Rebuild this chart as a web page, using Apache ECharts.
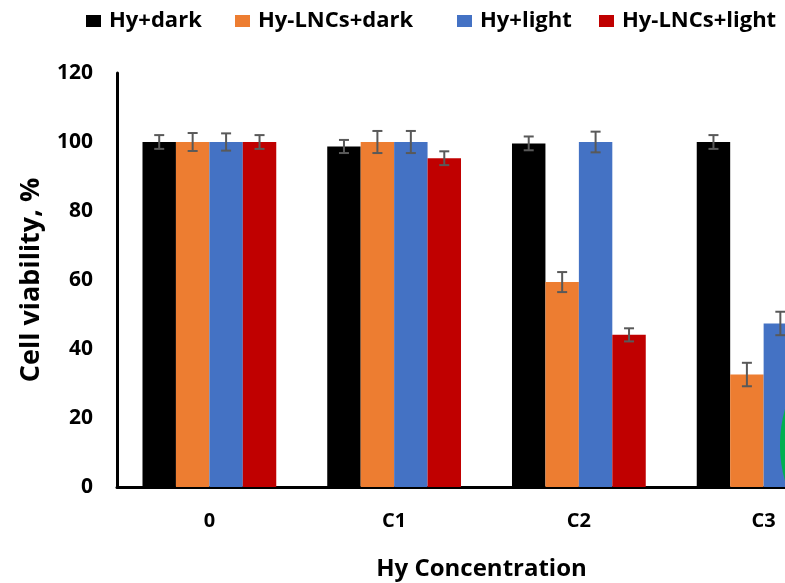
<!DOCTYPE html>
<html>
<head>
<meta charset="utf-8">
<script src="https://cdn.jsdelivr.net/npm/echarts@6/dist/echarts.min.js"></script>
<style>html,body{margin:0;padding:0;background:#fff;}#c{width:785px;height:583px;}</style>
</head>
<body>
<div id="c"></div>
<script>
const categories = ['0', 'C1', 'C2', 'C3'];
const seriesNames = ['Hy+dark', 'Hy-LNCs+dark', 'Hy+light', 'Hy-LNCs+light'];
const hyDark = [100, 98.7, 99.6, 100];
const hyDarkErr = [2, 1.9, 2, 2];
const hyLNCsDark = [100, 100, 59.4, 32.6];
const hyLNCsDarkErr = [2.6, 3.2, 2.9, 3.4];
const hyLight = [100, 100, 100, 47.4];
const hyLightErr = [2.5, 3.2, 3, 3.4];
const hyLNCsLight = [100, 95.3, 44.1, 12];
const hyLNCsLightErr = [2, 2, 1.9, 2];
const yTicks = [0, 20, 40, 60, 80, 100, 120];

const values = [hyDark, hyLNCsDark, hyLight, hyLNCsLight];
const errors = [hyDarkErr, hyLNCsDarkErr, hyLightErr, hyLNCsLightErr];
const colors = ['#000000', '#ED7D31', '#4472C4', '#C00000'];
const legendLefts = [86, 235, 457, 599];
const catGap = 0.276;
const FONT = '"Open Sans", sans-serif';

const chart = echarts.init(document.getElementById('c'), null, {renderer: 'canvas'});

const series = [];
values.forEach((vals, si) => {
  series.push({
    name: seriesNames[si],
    type: 'bar',
    data: vals,
    barGap: '0%',
    barCategoryGap: (catGap * 100) + '%',
    itemStyle: {color: colors[si]},
    z: 2
  });
});
values.forEach((vals, si) => {
  series.push({
    type: 'custom',
    name: seriesNames[si] + ' err',
    z: 5,
    silent: true,
    data: vals.map((v, i) => [i, v, errors[si][i]]),
    renderItem: function (params, api) {
      const idx = api.value(0);
      const v = api.value(1);
      const e = api.value(2);
      const band = api.size([1, 0])[0];
      const bw = band * (1 - catGap) / 4;
      const center = api.coord([idx, v]);
      const x = center[0] + (si - 1.5) * bw;
      const top = api.coord([idx, v + e])[1];
      const bot = api.coord([idx, v - e])[1];
      const cap = 5;
      const st = {stroke: '#595959', lineWidth: 2};
      return {
        type: 'group',
        children: [
          {type: 'line', shape: {x1: x, y1: top, x2: x, y2: bot}, style: st},
          {type: 'line', shape: {x1: x - cap, y1: top, x2: x + cap, y2: top}, style: st},
          {type: 'line', shape: {x1: x - cap, y1: bot, x2: x + cap, y2: bot}, style: st}
        ]
      };
    }
  });
});

const legends = seriesNames.map((n, i) => ({
  data: [n],
  left: legendLefts[i],
  top: 10,
  padding: 0,
  itemWidth: 15,
  itemHeight: 12,
  icon: 'rect',
  textStyle: {fontFamily: FONT, fontWeight: 'bold', fontSize: 22, color: '#000', padding: [0, 0, 0, 3]}
}));

chart.setOption({
  animation: false,
  backgroundColor: '#ffffff',
  legend: legends,
  grid: {left: 117, top: 73, width: 739, height: 414, containLabel: false, outerBoundsMode: 'none'},
  xAxis: {
    type: 'category',
    data: categories,
    name: 'Hy Concentration',
    nameLocation: 'middle',
    nameGap: 70,
    nameTextStyle: {fontFamily: FONT, fontWeight: 'bold', fontSize: 24, color: '#000', padding: [0, 10, 0, 0]},
    axisLine: {lineStyle: {color: '#000', width: 3}},
    axisTick: {show: false},
    axisLabel: {fontFamily: FONT, fontWeight: 'bold', fontSize: 20, color: '#000', margin: 24}
  },
  yAxis: {
    type: 'value',
    min: yTicks[0],
    max: yTicks[yTicks.length - 1],
    interval: 20,
    name: 'Cell viability, %',
    nameLocation: 'middle',
    nameGap: 72,
    nameTextStyle: {fontFamily: FONT, fontWeight: 'bold', fontSize: 27, color: '#000'},
    axisLine: {show: true, lineStyle: {color: '#000', width: 3}},
    axisTick: {show: false},
    splitLine: {show: false},
    axisLabel: {fontFamily: FONT, fontWeight: 'bold', fontSize: 21, color: '#000', margin: 24}
  },
  graphic: [{
    type: 'ellipse',
    shape: {cx: 840, cy: 445, rx: 60, ry: 90},
    style: {fill: '#00B050'},
    z: 100
  }],
  series: series
});
</script>
</body>
</html>
